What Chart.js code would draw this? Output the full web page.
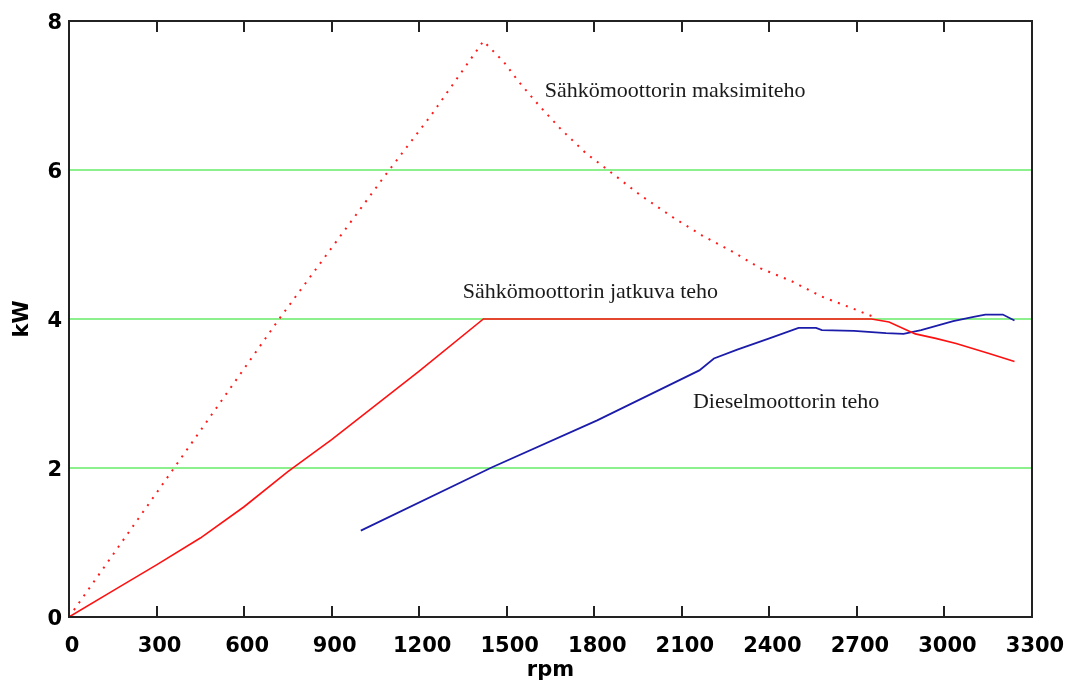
<!DOCTYPE html>
<html>
<head>
<meta charset="utf-8">
<script src="https://cdn.jsdelivr.net/npm/chart.js@4/dist/chart.umd.min.js"></script>
<style>
    html, body { margin: 0; padding: 0; background: #fff; }
    #wrap { width: 1075px; height: 684px; }
</style>
</head>
<body>
<div id="wrap"><canvas id="powerChart" width="1075" height="684"></canvas></div>
<script>
// Moottoriteho kierrosluvun funktiona
const xTicks = [0, 300, 600, 900, 1200, 1500, 1800, 2100, 2400, 2700, 3000, 3300];
const yTicks = [0, 2, 4, 6, 8];

// Sähkömoottorin maksimiteho (pisteviiva)
const rpmMax = [0, 360, 720, 1080, 1240, 1420, 1490, 1540, 1610, 1685, 1770, 1860, 1955, 2075, 2170, 2275, 2370, 2475, 2580, 2680, 2750];
const kwMax = [0, 2.0, 4.0, 5.91, 6.73, 7.73, 7.45, 7.19, 6.87, 6.55, 6.23, 5.96, 5.67, 5.35, 5.12, 4.90, 4.68, 4.51, 4.30, 4.15, 4.04];

// Sähkömoottorin jatkuva teho
const rpmCont = [0, 150, 300, 450, 600, 750, 900, 1050, 1200, 1420, 2750, 2810, 2900, 2970, 3040, 3150, 3240];
const kwCont = [0, 0.35, 0.70, 1.06, 1.48, 1.95, 2.38, 2.84, 3.30, 4.0, 4.0, 3.96, 3.80, 3.74, 3.67, 3.54, 3.43];

// Dieselmoottorin teho
const rpmDiesel = [1000, 1450, 1810, 2160, 2210, 2290, 2400, 2500, 2560, 2580, 2690, 2800, 2860, 2920, 3030, 3100, 3140, 3200, 3240];
const kwDiesel = [1.16, 2.01, 2.64, 3.31, 3.47, 3.59, 3.74, 3.88, 3.88, 3.85, 3.84, 3.81, 3.80, 3.85, 3.97, 4.03, 4.06, 4.06, 3.98];

// Tekstit: [teksti, rpm, kW] (vasen reuna, perusviiva)
const curveLabels = [
    ['Sähkömoottorin maksimiteho', 1630, 6.98],
    ['Sähkömoottorin jatkuva teho', 1349, 4.28],
    ['Dieselmoottorin teho', 2138, 2.80]
];

const toPoints = (xs, ys) => xs.map((x, i) => ({ x: x, y: ys[i] }));

const tickFont = { family: 'DejaVu Sans', size: 21, weight: 'bold' };

// Akselilaatikko, sisäänpäin osoittavat x-tikit ja käyrien tekstit
const boxPlugin = {
    id: 'boxPlugin',
    afterDatasetsDraw(chart) {
        const { ctx, chartArea: a, scales } = chart;
        ctx.save();
        ctx.strokeStyle = '#222';
        ctx.lineWidth = 2;
        ctx.strokeRect(a.left, a.top, a.right - a.left, a.bottom - a.top);
        scales.x.ticks.forEach(t => {
            const px = Math.round(scales.x.getPixelForValue(t.value));
            ctx.beginPath();
            ctx.moveTo(px, a.bottom);
            ctx.lineTo(px, a.bottom - 11);
            ctx.moveTo(px, a.top);
            ctx.lineTo(px, a.top + 11);
            ctx.stroke();
        });
        ctx.fillStyle = '#1a1a1a';
        ctx.font = '22px "Liberation Serif"';
        ctx.textBaseline = 'alphabetic';
        ctx.textAlign = 'left';
        curveLabels.forEach(([text, x, y]) => {
            ctx.fillText(text, scales.x.getPixelForValue(x), scales.y.getPixelForValue(y));
        });
        ctx.restore();
    }
};

new Chart(document.getElementById('powerChart'), {
    type: 'line',
    data: {
        datasets: [
            {
                label: 'Sähkömoottorin maksimiteho',
                data: toPoints(rpmMax, kwMax),
                borderColor: '#ff1a1a',
                borderWidth: 2,
                borderDash: [2, 6.5],
                pointRadius: 0,
                tension: 0,
                fill: false
            },
            {
                label: 'Sähkömoottorin jatkuva teho',
                data: toPoints(rpmCont, kwCont),
                borderColor: '#ff1010',
                borderWidth: 1.6,
                pointRadius: 0,
                tension: 0,
                fill: false
            },
            {
                label: 'Dieselmoottorin teho',
                data: toPoints(rpmDiesel, kwDiesel),
                borderColor: '#1c1caa',
                borderWidth: 1.8,
                pointRadius: 0,
                tension: 0,
                fill: false
            }
        ]
    },
    options: {
        responsive: false,
        animation: false,
        events: [],
        layout: { padding: { top: 21, right: 43, left: 0, bottom: 0 } },
        plugins: { legend: { display: false }, tooltip: { enabled: false } },
        scales: {
            x: {
                type: 'linear',
                min: xTicks[0],
                max: xTicks[xTicks.length - 1],
                afterFit: s => {
                    s.height = 67;
                    s.paddingLeft = 0;
                    s.paddingRight = 0;
                },
                afterBuildTicks: s => { s.ticks = xTicks.map(v => ({ value: v })); },
                grid: { display: false, drawTicks: false },
                border: { display: false },
                ticks: {
                    color: '#000',
                    font: tickFont,
                    padding: 17,
                    labelOffset: 3,
                    maxRotation: 0,
                    autoSkip: false,
                    callback: v => String(v)
                },
                title: {
                    display: true,
                    text: 'rpm',
                    color: '#000',
                    font: tickFont,
                    padding: { top: 0, bottom: 1 }
                }
            },
            y: {
                min: yTicks[0],
                max: yTicks[yTicks.length - 1],
                afterFit: s => { s.width = 69; },
                afterBuildTicks: s => { s.ticks = yTicks.map(v => ({ value: v })); },
                grid: {
                    drawTicks: false,
                    lineWidth: 2,
                    color: c => (c.tick && c.tick.value > 0 && c.tick.value < 8) ? '#8cf08c' : 'rgba(0,0,0,0)'
                },
                border: { display: false },
                ticks: { color: '#000', font: tickFont, padding: 7, labelOffset: 3, callback: v => String(v) },
                title: {
                    display: true,
                    text: 'kW',
                    color: '#000',
                    font: tickFont,
                    padding: { top: 10, bottom: 0 }
                }
            }
        }
    },
    plugins: [boxPlugin]
});
</script>
</body>
</html>
